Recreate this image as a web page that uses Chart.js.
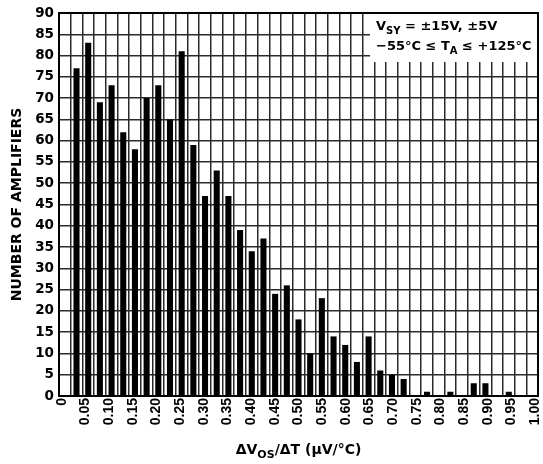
<!DOCTYPE html>
<html>
<head>
<meta charset="utf-8">
<script src="https://cdn.jsdelivr.net/npm/chart.js@4.4.1/dist/chart.umd.min.js"></script>
<style>
  html, body { margin: 0; padding: 0; background: #fff; }
</style>
</head>
<body>
<canvas id="histo" width="543" height="464"></canvas>
<script>
// Bins of 0.025 µV/°C (start of each bin)
const binStarts = ['0.000', '0.025', '0.050', '0.075', '0.100', '0.125', '0.150', '0.175', '0.200', '0.225',
  '0.250', '0.275', '0.300', '0.325', '0.350', '0.375', '0.400', '0.425', '0.450', '0.475',
  '0.500', '0.525', '0.550', '0.575', '0.600', '0.625', '0.650', '0.675', '0.700', '0.725',
  '0.750', '0.775', '0.800', '0.825', '0.850', '0.875', '0.900', '0.925', '0.950', '0.975', '1.000'];

// Number of amplifiers in each bin
const amplifierCounts = [0, 77, 83, 69, 73, 62, 58, 70, 73, 65,
  81, 59, 47, 53, 47, 39, 34, 37, 24, 26,
  18, 10, 23, 14, 12, 8, 14, 6, 5, 4,
  0, 1, 0, 1, 0, 3, 3, 0, 1, 0, 0];

// Axis tick labels
const xTickLabels = ['0', '0.05', '0.10', '0.15', '0.20', '0.25', '0.30', '0.35', '0.40', '0.45', '0.50',
  '0.55', '0.60', '0.65', '0.70', '0.75', '0.80', '0.85', '0.90', '0.95', '1.00'];
const yMin = 0;
const yMax = 90;
const yStep = 5;

const FONT = '"DejaVu Sans", sans-serif';
const GRID = '#2a2a2a';

// Draw a line of text that has subscript parts
function drawRich(ctx, parts, x, y, size, subSize, subShift, align) {
  let total = 0;
  const widths = parts.map(p => {
    ctx.font = `bold ${p.sub ? subSize : size}px ${FONT}`;
    const w = ctx.measureText(p.t).width;
    total += w;
    return w;
  });
  let cx = align === 'center' ? x - total / 2 : x;
  parts.forEach((p, i) => {
    ctx.font = `bold ${p.sub ? subSize : size}px ${FONT}`;
    ctx.fillText(p.t, cx, p.sub ? y + subShift : y);
    cx += widths[i];
  });
}

const overlay = {
  id: 'overlay',
  afterDatasetsDraw(chart) {
    const { ctx, chartArea: a } = chart;
    ctx.save();
    // conditions box in the top right corner
    const bx = a.right - 168;
    ctx.fillStyle = '#fff';
    ctx.fillRect(bx, a.top, a.right - bx, 49);
    ctx.fillStyle = '#000';
    ctx.textAlign = 'left';
    ctx.textBaseline = 'alphabetic';
    drawRich(ctx, [{ t: 'V' }, { t: 'SY', sub: true }, { t: ' = ±15V, ±5V' }],
      bx + 6, a.top + 17, 13, 10, 3.5, 'left');
    drawRich(ctx, [{ t: '−55°C ≤ T' }, { t: 'A', sub: true }, { t: ' ≤ +125°C' }],
      bx + 6, a.top + 37, 13, 10, 4, 'left');
    ctx.restore();
  },
  afterDraw(chart) {
    const { ctx, chartArea: a } = chart;
    ctx.save();
    ctx.strokeStyle = '#000';
    ctx.lineWidth = 2;
    ctx.strokeRect(a.left, a.top, a.right - a.left, a.bottom - a.top);
    // x axis title
    ctx.fillStyle = '#000';
    ctx.textBaseline = 'alphabetic';
    drawRich(ctx, [{ t: 'ΔV' }, { t: 'OS', sub: true }, { t: '/ΔT (µV/°C)' }],
      (a.left + a.right) / 2, 454, 14, 11, 3.5, 'center');
    ctx.restore();
  }
};

new Chart(document.getElementById('histo'), {
  type: 'bar',
  data: {
    labels: binStarts,
    datasets: [{
      data: amplifierCounts,
      backgroundColor: '#000',
      borderWidth: 0,
      barPercentage: 0.52,
      categoryPercentage: 1.0,
      xAxisID: 'x',
      yAxisID: 'y'
    }]
  },
  options: {
    responsive: false,
    animation: false,
    devicePixelRatio: 1,
    layout: { padding: { top: 13, right: 5, left: 0, bottom: 0 } },
    plugins: {
      legend: { display: false },
      tooltip: { enabled: false }
    },
    scales: {
      x: {
        type: 'category',
        position: 'top',
        offset: true,
        grid: { offset: true, color: GRID, lineWidth: 1.5, drawTicks: false },
        border: { display: false },
        ticks: { display: false },
        afterFit: s => { s.height = 0; s.paddingLeft = 0; s.paddingRight = 0; }
      },
      xt: {
        type: 'linear',
        position: 'bottom',
        offset: false,
        min: -0.0063,
        max: 1.0063,
        grid: { display: false, drawTicks: false, offset: false },
        border: { display: false },
        afterBuildTicks: s => { s.ticks = xTickLabels.map(t => ({ value: parseFloat(t) })); },
        ticks: {
          autoSkip: false,
          minRotation: 90,
          maxRotation: 90,
          padding: 2,
          color: '#000',
          font: { family: '"Liberation Sans", Arial, sans-serif', weight: 'bold', size: 14 },
          callback: (v, i) => xTickLabels[i]
        },
        afterFit: s => { s.height = 68; s.paddingLeft = 0; s.paddingRight = 0; }
      },
      y: {
        min: yMin,
        max: yMax,
        grid: { color: GRID, lineWidth: 1.5, drawTicks: false },
        border: { display: false },
        ticks: {
          stepSize: yStep,
          padding: 5,
          color: '#000',
          font: { family: FONT, weight: 'bold', size: 13.5 }
        },
        title: {
          display: true,
          text: 'NUMBER OF AMPLIFIERS',
          color: '#000',
          font: { family: FONT, weight: 'bold', size: 14 },
          padding: { top: 9, bottom: 0 }
        },
        afterFit: s => { s.width = 59; s.paddingTop = 0; s.paddingBottom = 0; }
      }
    }
  },
  plugins: [overlay]
});
</script>
</body>
</html>
